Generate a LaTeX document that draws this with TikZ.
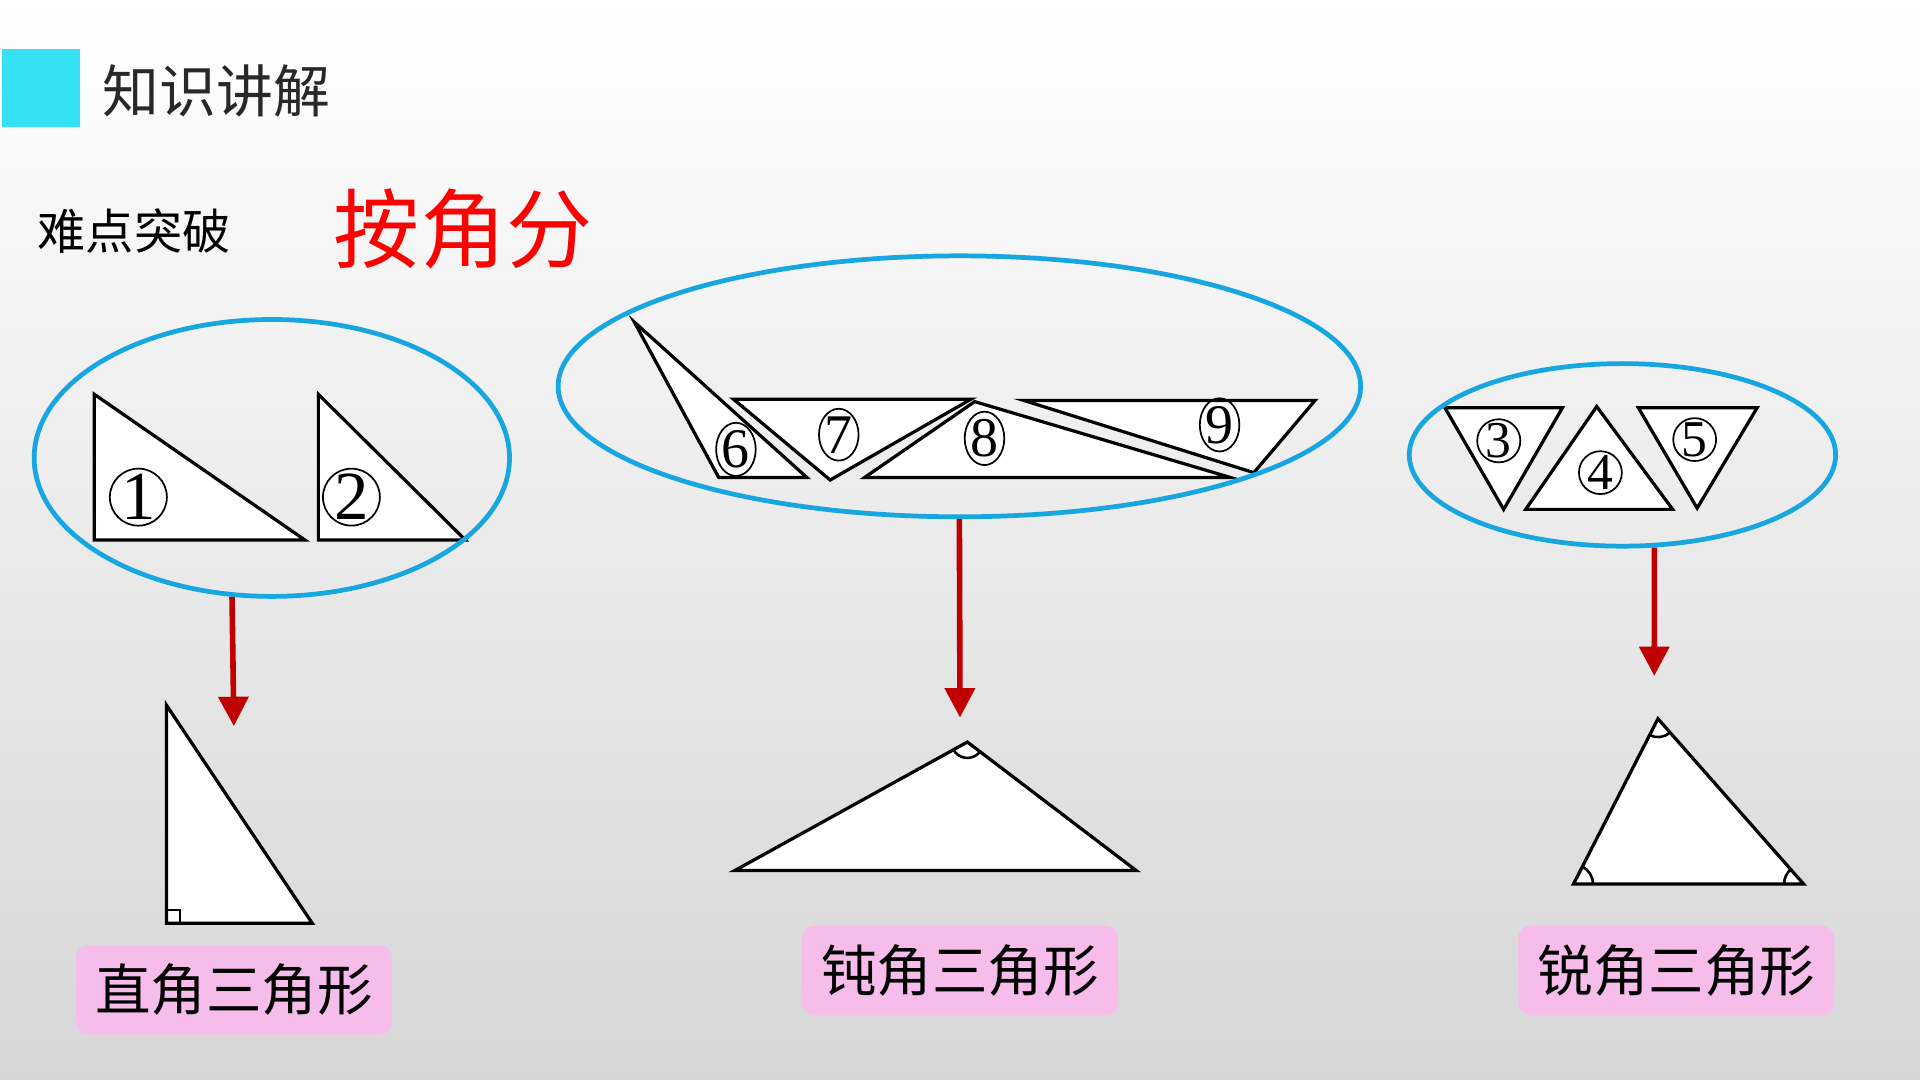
\documentclass[tikz,border=0pt]{standalone}
\usepackage{fontspec}
\setmainfont{Liberation Serif}
\newfontfamily\cjk{Noto Sans CJK SC}
\usetikzlibrary{shapes.geometric,arrows.meta}
\definecolor{cyanbox}{RGB}{54,224,245}
\definecolor{ellblue}{RGB}{24,166,224}
\definecolor{arrred}{RGB}{192,0,0}
\definecolor{pinkbox}{RGB}{246,188,234}
\definecolor{bgmid}{RGB}{234,234,234}
\definecolor{bgbot}{RGB}{214,214,214}
\definecolor{titlegray}{RGB}{40,40,40}
\begin{document}
\begin{tikzpicture}[x=0.01cm,y=-0.01cm,
  tri/.style={draw=black, fill=white, line width=0.75pt, line join=miter},
  grp/.style={draw=ellblue, ellipse, line width=1.1pt, inner sep=0pt},
  cnum/.style={circle, draw=black, line width=0.4pt, inner sep=0pt},
  onum/.style={ellipse, draw=black, line width=0.4pt, inner sep=0pt, minimum width=0.31cm, minimum height=0.35cm, font=\fontsize{13}{13}\selectfont},
  downarrow/.style={draw=arrred, line width=1.3pt, -{Triangle[width=0.24cm,length=0.24cm]}},
  namebox/.style={fill=pinkbox, rounded corners=0.1cm, minimum width=2.58cm, minimum height=0.73cm, inner sep=0pt, font=\cjk\fontsize{12.9}{12.9}\selectfont},
  anglemark/.style={draw=black, line width=0.6pt}
]
\useasboundingbox (0,0) rectangle (1568,882);
\shade[top color=white, middle color=bgmid, bottom color=bgbot] (0,0) rectangle (1568,882);

% header
\fill[cyanbox] (2,40) rectangle (65,104);
\node[font=\cjk\fontsize{13.2}{13.2}\selectfont, text=titlegray, anchor=west, inner sep=0pt] (title) at (83,74) {知识讲解};
\node[font=\cjk\fontsize{11.2}{11.2}\selectfont, text=black, anchor=west, inner sep=0pt] (sub) at (30,189) {难点突破};
\node[font=\cjk\fontsize{20}{20}\selectfont, text=red, anchor=west, inner sep=0pt] (cat) at (272,187) {按角分};

% group 1: right triangles
\draw[tri] (77,322) -- (77,441) -- (249,441) -- cycle;
\draw[tri] (260,322) -- (260,441) -- (380,441) -- cycle;
\node[cnum, minimum size=0.44cm, font=\fontsize{16}{16}\selectfont] (n1) at (113,406) {1};
\node[cnum, minimum size=0.44cm, font=\fontsize{16}{16}\selectfont] (n2) at (287,406) {2};
\node[grp, minimum width=3.88cm, minimum height=2.26cm] (g1) at (222,374) {};

% group 2: obtuse triangles
\draw[tri] (518,263) -- (587,390) -- (659,390) -- cycle;
\draw[tri] (599,326) -- (793,326) -- (678,392) -- cycle;
\draw[tri] (796,328) -- (706,390) -- (1005,390) -- cycle;
\draw[tri] (836,327) -- (1074,327) -- (1024,386) -- cycle;
\node[onum] (n6) at (601,367) {6};
\node[onum] (n7) at (685,355) {7};
\node[onum] (n8) at (804,358) {8};
\node[onum] (n9) at (996,347) {9};
\node[grp, minimum width=6.55cm, minimum height=2.13cm] (g2) at (783.5,315.5) {};

% group 3: acute triangles
\draw[tri] (1180,333) -- (1276,333) -- (1228,416) -- cycle;
\draw[tri] (1304,332) -- (1246,416) -- (1366,416) -- cycle;
\draw[tri] (1338,333) -- (1435,333) -- (1386,415) -- cycle;
\node[cnum, minimum size=0.35cm, font=\fontsize{12}{12}\selectfont] (n3) at (1224,360) {3};
\node[cnum, minimum size=0.35cm, font=\fontsize{12}{12}\selectfont] (n4) at (1307,386) {4};
\node[cnum, minimum size=0.35cm, font=\fontsize{12}{12}\selectfont] (n5) at (1384,359) {5};
\node[grp, minimum width=3.48cm, minimum height=1.49cm] (g3) at (1325,371.5) {};

% arrows
\coordinate (t1) at (191,593);
\coordinate (t2) at (784,586);
\coordinate (t3) at (1351,552);
\draw[downarrow] (g1.254) -- (t1);
\draw[downarrow] (g2.270) -- (t2);
\draw[downarrow] (g3.289.4) -- (t3);

% representative triangles
\draw[tri] (136,576) -- (136,754) -- (255,754) -- cycle;
\draw[anglemark] (136,743) -- (147,743) -- (147,754);

\draw[tri] (600,711) -- (790,606) -- (928,711) -- cycle;
\draw[anglemark] (790,606) ++(37.1:13) arc[start angle=37.1, end angle=151.1, radius=13];

\draw[tri] (1354,587) -- (1285,722) -- (1473,722) -- cycle;
\draw[anglemark] (1354,587) ++(48.6:15) arc[start angle=48.6, end angle=116.8, radius=15];
\draw[anglemark] (1285,722) ++(-63.2:16) arc[start angle=-63.2, end angle=0, radius=16];
\draw[anglemark] (1473,722) ++(180:16) arc[start angle=180, end angle=228.6, radius=16];

% name boxes
\node[namebox] (b1) at (191,808.5) {直角三角形};
\node[namebox] (b2) at (784,792.5) {钝角三角形};
\node[namebox] (b3) at (1369,792.5) {锐角三角形};
\end{tikzpicture}
\end{document}
